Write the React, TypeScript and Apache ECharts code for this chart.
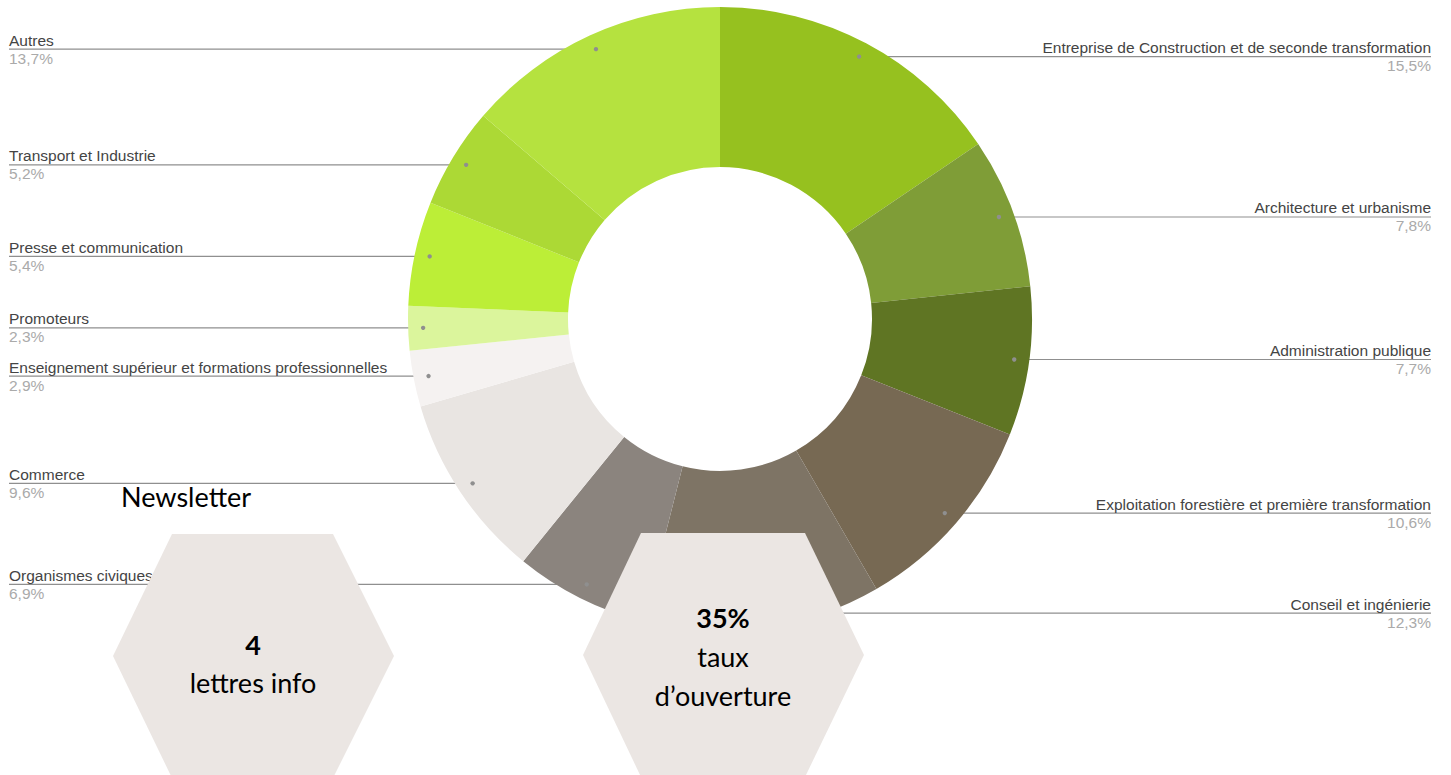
import React, { useEffect, useRef } from 'react';
import * as echarts from 'echarts';

const categories: string[] = [
  'Entreprise de Construction et de seconde transformation',
  'Architecture et urbanisme',
  'Administration publique',
  'Exploitation forestière et première transformation',
  'Conseil et ingénierie',
  'Organismes civiques',
  'Commerce',
  'Enseignement supérieur et formations professionnelles',
  'Promoteurs',
  'Presse et communication',
  'Transport et Industrie',
  'Autres',
];
const shares: number[] = [15.5, 7.8, 7.7, 10.6, 12.3, 6.9, 9.6, 2.9, 2.3, 5.4, 5.2, 13.7];
const sliceColors: string[] = [
  '#96c11f', '#7f9d37', '#5f7523', '#776953', '#7e7465', '#8b847e',
  '#e9e5e2', '#f5f2f1', '#dbf59c', '#bcee37', '#acd935', '#b5e23f',
];

const newsletterTitle = 'Newsletter';
const leftHexTexts = { value: '4', caption: 'lettres info' };
const rightHexTexts = { value: '35%', caption1: 'taux', caption2: 'd\u2019ouverture' };

// geometry
const CX = 720;
const CY = 319;
const R_IN = 152;
const R_OUT = 312;
const DOT_R = 297;
const LEFT_X = 9;
const RIGHT_X = 1431;

const total = shares.reduce((a, b) => a + b, 0);
function midPoint(i: number): [number, number] {
  let before = 0;
  for (let k = 0; k < i; k++) before += shares[k];
  const frac = (before + shares[i] / 2) / total;
  const ang = frac * Math.PI * 2;
  return [CX + DOT_R * Math.sin(ang), CY - DOT_R * Math.cos(ang)];
}
const fmtPct = (v: number) => v.toFixed(1).replace('.', ',') + '%';

const HEX_FILL = '#ebe6e3';
const TXT_FONT = 'Lato, "Open Sans", sans-serif';
const LBL_FONT = '"Liberation Sans", Arial, sans-serif';

export default function App() {
  const ref = useRef<HTMLDivElement>(null);
  useEffect(() => {
    if (!ref.current) return;
    const chart = echarts.init(ref.current, undefined, { renderer: 'svg' });
    const data = categories.map((name, i) => {
      const [x] = midPoint(i);
      const left = x < CX;
      return {
        name,
        value: shares[i],
        itemStyle: { color: sliceColors[i] },
        label: {
          rich: {
            n: { fontSize: 15.5, color: '#444', lineHeight: 18, fontFamily: LBL_FONT, align: left ? 'left' : 'right' },
            p: { fontSize: 15.5, color: '#aaaaaa', lineHeight: 18, fontFamily: LBL_FONT, align: left ? 'left' : 'right' },
          },
        },
      };
    });
    chart.setOption({
      animation: false,
      backgroundColor: '#ffffff',
      series: [
        {
          type: 'pie',
          center: [CX, CY],
          radius: [R_IN, R_OUT],
          startAngle: 90,
          clockwise: true,
          avoidLabelOverlap: false,
          silent: true,
          data,
          label: {
            show: true,
            position: 'outside',
            formatter: (p: any) => `{n|${p.name}}\n{p|${fmtPct(p.value)}}`,
          },
          labelLine: { show: true, lineStyle: { color: '#8f8f8f', width: 1.2 } },
          labelLayout: (params: any) => {
            const i = params.dataIndex;
            const [x, y] = midPoint(i);
            const left = x < CX;
            const ex = left ? LEFT_X : RIGHT_X;
            return {
              x: ex,
              y,
              align: left ? 'left' : 'right',
              verticalAlign: 'middle',
              labelLinePoints: [[x, y], [(x + ex) / 2, y], [ex, y]],
            };
          },
        },
        {
          type: 'custom',
          coordinateSystem: 'none',
          silent: true,
          z: 3,
          data: shares,
          renderItem: (params: any) => {
            const [x, y] = midPoint(params.dataIndex);
            return { type: 'circle', shape: { cx: x, cy: y, r: 2.2 }, style: { fill: '#8f8f8f' } };
          },
        },
      ],
      graphic: [
        {
          type: 'polygon', z: 10, silent: true,
          shape: { points: [[172, 534], [333, 534], [394, 656], [333, 778], [172, 778], [113, 656]] },
          style: { fill: HEX_FILL },
        },
        {
          type: 'polygon', z: 10, silent: true,
          shape: { points: [[641, 533], [805, 533], [864, 655], [805, 777], [641, 777], [583, 655]] },
          style: { fill: HEX_FILL },
        },
        {
          type: 'text', z: 11, silent: true, x: 121, y: 496,
          style: { text: newsletterTitle, font: `27px ${TXT_FONT}`, fill: '#000', align: 'left', verticalAlign: 'middle' },
        },
        {
          type: 'text', z: 11, silent: true, x: 253, y: 644,
          style: { text: leftHexTexts.value, font: `bold 27px ${TXT_FONT}`, fill: '#000', align: 'center', verticalAlign: 'middle' },
        },
        {
          type: 'text', z: 11, silent: true, x: 253, y: 682,
          style: { text: leftHexTexts.caption, font: `27px ${TXT_FONT}`, fill: '#000', align: 'center', verticalAlign: 'middle' },
        },
        {
          type: 'text', z: 11, silent: true, x: 723, y: 617,
          style: { text: rightHexTexts.value, font: `bold 27px ${TXT_FONT}`, fill: '#000', align: 'center', verticalAlign: 'middle' },
        },
        {
          type: 'text', z: 11, silent: true, x: 723, y: 656,
          style: { text: rightHexTexts.caption1, font: `27px ${TXT_FONT}`, fill: '#000', align: 'center', verticalAlign: 'middle' },
        },
        {
          type: 'text', z: 11, silent: true, x: 723, y: 695,
          style: { text: rightHexTexts.caption2, font: `27px ${TXT_FONT}`, fill: '#000', align: 'center', verticalAlign: 'middle' },
        },
      ],
    });
    return () => chart.dispose();
  }, []);
  return (
    <div
      ref={ref}
      style={{ position: 'fixed', left: 0, top: 0, width: 1451, height: 775, background: '#fff' }}
    />
  );
}
